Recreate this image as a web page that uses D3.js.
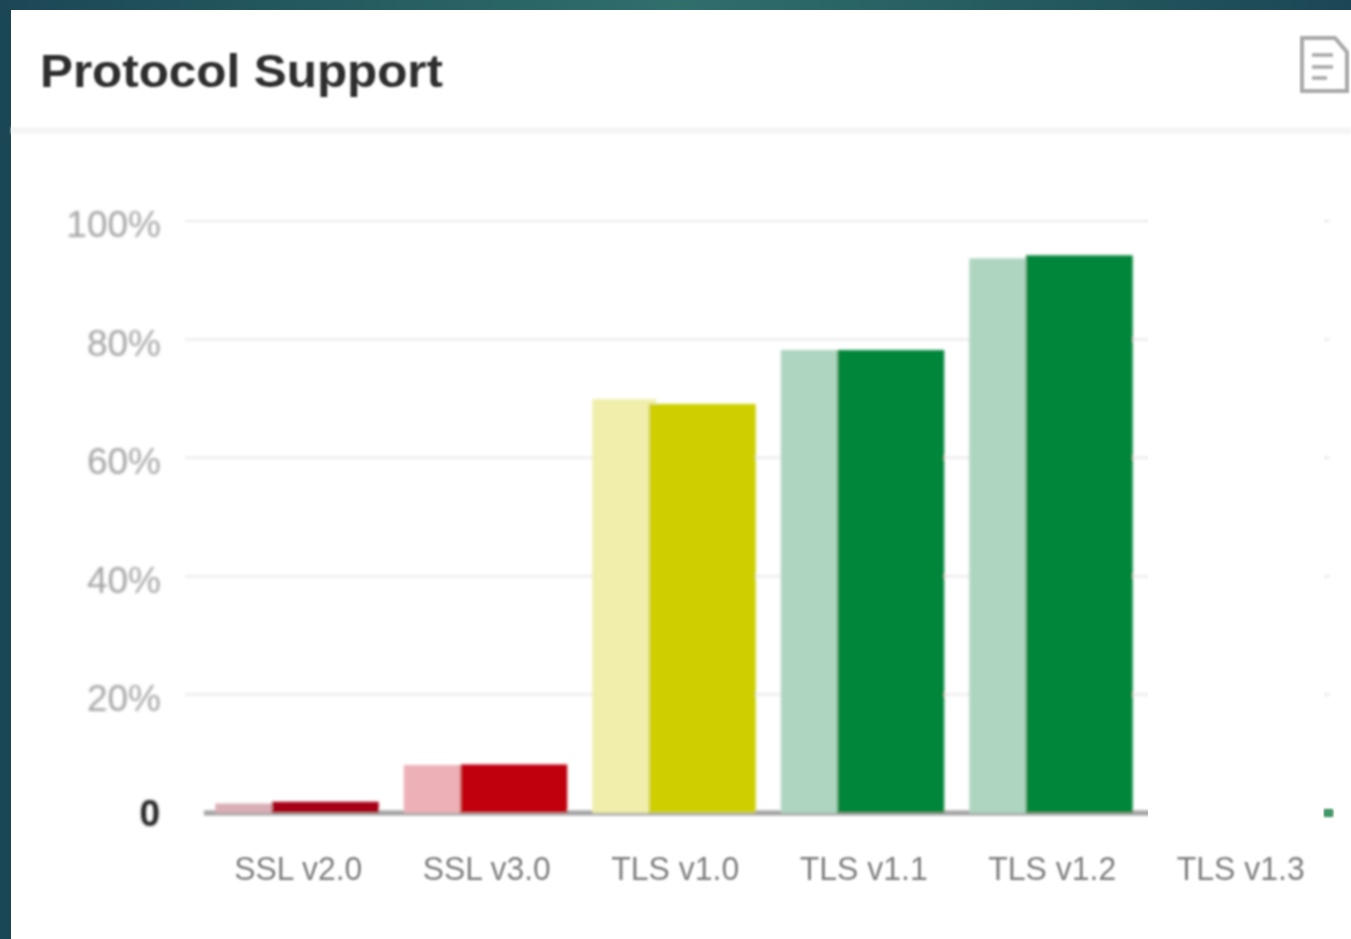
<!DOCTYPE html>
<html><head><meta charset="utf-8">
<script src="https://cdn.jsdelivr.net/npm/d3@7"></script>
<style>html,body{margin:0;padding:0;background:#1b4754;overflow:hidden}svg{display:block}text{font-family:"Liberation Sans",Arial,sans-serif}</style>
</head><body><svg id="c" width="1351" height="939"></svg>
<script>
const categories=["SSL v2.0","SSL v3.0","TLS v1.0","TLS v1.1","TLS v1.2","TLS v1.3"];
const paleValues=[1.6,8.1,69.9,78.2,93.7,0];
const solidValues=[1.9,8.2,69.1,78.2,94.2,0];
const paleColors=["#d9aeb6","#ecb0b6","#f0eeaa","#aed5c0","#aed5c0","#aed5c0"];
const solidColors=["#a60018","#c0000f","#cfcf00","#06863a","#06863a","#06863a"];
const yTickValues=[0,20,40,60,80,100];
const titleText="Protocol Support";

const svg=d3.select("#c");
const defs=svg.append("defs");
const g=defs.append("linearGradient").attr("id","bg");
[[0,"#1b4754"],[.5,"#2f6f6c"],[1,"#1b4754"]].forEach(s=>g.append("stop").attr("offset",s[0]).attr("stop-color",s[1]));
defs.append("filter").attr("id","blur").attr("x","-5%").attr("y","-5%").attr("width","110%").attr("height","110%").append("feGaussianBlur").attr("stdDeviation",1.5);
defs.append("filter").attr("id","blurS").attr("x","-5%").attr("y","-20%").attr("width","110%").attr("height","140%").append("feGaussianBlur").attr("stdDeviation",1.3);

svg.append("rect").attr("width",1351).attr("height",939).attr("fill","#1b4754");
svg.append("rect").attr("width",1351).attr("height",10).attr("fill","url(#bg)");
svg.append("rect").attr("x",11).attr("y",10).attr("width",1340).attr("height",929).attr("fill","#fff");

// header
svg.append("text").attr("x",40).attr("y",87).attr("font-size",46).attr("font-weight","bold").attr("fill","#2e2e2e")
  .attr("textLength",403).attr("lengthAdjust","spacingAndGlyphs").attr("filter","url(#blurS)").text(titleText);
svg.append("rect").attr("x",11).attr("y",127).attr("width",1340).attr("height",7).attr("fill","#f5f5f5").attr("filter","url(#blurS)");
const icon=svg.append("g").attr("filter","url(#blurS)").attr("fill","none").attr("stroke","#a8a8a8").attr("stroke-width",4);
icon.append("path").attr("d","M1302 38H1335L1347 52V91H1302Z");
icon.append("path").attr("d","M1312 55H1333M1312 67H1333M1312 78H1327").attr("stroke-width",3.5);

const x=d3.scaleBand().domain(categories).range([204,1335]);
const y=d3.scaleLinear().domain([0,100]).range([813,221]);

const chart=svg.append("g").attr("filter","url(#blur)");
// grid + y axis
const yAxis=chart.append("g").attr("transform","translate(185,0)")
  .call(d3.axisLeft(y).tickValues(yTickValues).tickSize(0).tickPadding(24).tickFormat(d=>d===0?"0":d+"%"));
yAxis.select(".domain").remove();
yAxis.selectAll("text").attr("font-size",37).attr("fill",d=>d===0?"#222":"#a4a4a4").attr("font-weight",d=>d===0?"bold":"normal")
  .attr("dx",d=>d===0?-1:0).attr("transform",d=>`translate(0,${d===0?1:4})`);
chart.append("g").selectAll("line").data(yTickValues.slice(1)).join("line")
  .attr("x1",185).attr("x2",1330).attr("y1",d=>y(d)).attr("y2",d=>y(d)).attr("stroke","#e8e8e8").attr("stroke-width",2);

// baseline
chart.append("line").attr("x1",x.range()[0]).attr("x2",1333).attr("y1",y(0)).attr("y2",y(0)).attr("stroke","#a0a0a0").attr("stroke-width",5);

// bars
const bw=x.bandwidth();
const paleOff=bw*0.06, paleW=bw*0.34, solidOff=bw*0.36, solidW=bw*0.567;
chart.append("g").selectAll("rect").data(categories).join("rect")
  .attr("x",d=>x(d)+paleOff).attr("width",paleW)
  .attr("y",(d,i)=>y(paleValues[i])).attr("height",(d,i)=>y(0)-y(paleValues[i]))
  .attr("fill",(d,i)=>paleColors[i]);
chart.append("g").selectAll("rect").data(categories).join("rect")
  .attr("x",d=>x(d)+solidOff).attr("width",solidW)
  .attr("y",(d,i)=>y(solidValues[i])).attr("height",(d,i)=>y(0)-y(solidValues[i]))
  .attr("fill",(d,i)=>solidColors[i]);

// white patch over the right part of the plot, as in the reference
svg.append("rect").attr("x",1148).attr("y",170).attr("width",176).attr("height",660).attr("fill","#fff");
svg.append("rect").attr("x",1324).attr("y",809).attr("width",9).attr("height",8).attr("fill","#3f9a68").attr("filter","url(#blurS)");

// x axis
const xAxis=svg.append("g").attr("filter","url(#blurS)").attr("transform","translate(0,813)")
  .call(d3.axisBottom(x).tickSize(0).tickPadding(43));
xAxis.select(".domain").remove();
xAxis.selectAll("text").attr("font-size",34).attr("fill","#7e7e7e").attr("textLength",128).attr("lengthAdjust","spacingAndGlyphs");
</script></body></html>
